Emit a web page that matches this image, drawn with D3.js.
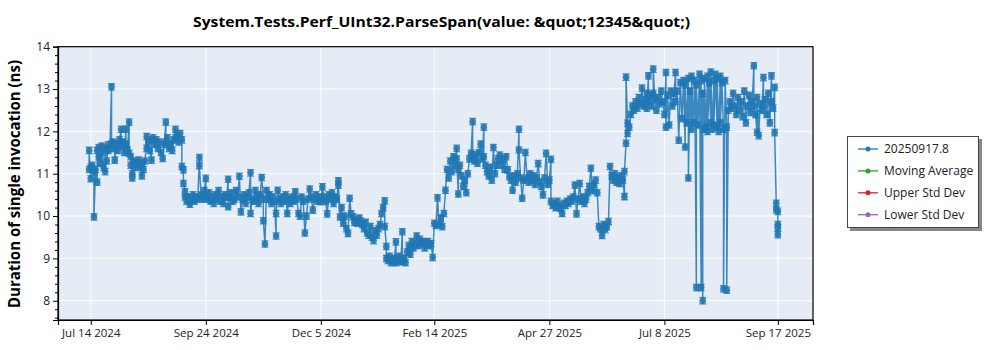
<!DOCTYPE html>
<html><head><meta charset="utf-8">
<script src="https://cdn.jsdelivr.net/npm/d3@7/dist/d3.min.js"></script>
<style>body{margin:0;background:#fff;} svg{display:block;font-family:"Open Sans","Noto Sans",sans-serif;}</style>
</head><body><svg id="c" width="1000" height="350"></svg>
<script>
// ---------------- data ----------------
const startDate = "2024-07-14";           // day 0 of dayOffsets
const dayOffsets = [
  -1,-1,0,0,1,2,2,3,4,4, 5,5,6,7,7,8,9,9,10,11, 11,12,13,13,14,15,15,16,17,18,
  19,19,20,21,22,22,23,24,24,25, 25,26,26,27,28,29,30,31,32,32, 33,34,35,35,36,37,38,38,39,40,
  41,42,43,44,45,46,47,47,48,49, 50,51,52,53,53,54,55,56,57,57, 58,58,59,59,60,61,62,63,64,65,
  66,67,68,68,69,70,71,
  72,72,73,74,75,76,77,78,79,80, 81,82,83,84,85,86,86,87,88,89, 90,91,92,93,94,95,96,97,98,99,
  100,100,101,102,103,104,105,106,107,108, 108,109,110,111,112,113,
  114,115,116,116,117,118,119,120,121,122, 123,124,125,126,127,128,129,130,131,132,
  133,134,135,136,137,138,139,140,141,142, 143,144,145,146,147,148,149,150,151,152,
  153,154,155,155,156,157,158,159,160,161, 162,163,164,165,166,167,168,169,170,171,
  172,173,174,175,176,177,178,179,180,181, 182,183,184,184,185,185,186,187,188,189,
  190,191,191,192,193,194,195,195,196,197, 198,199,200,201,202,203,204,205,206,207,
  208,209,210,211,212,213,214,215,216,217, 218,219,220,221,222,223,224,225,226,227,
  228,229,229,230,230,231,
  232,233,234,235,236,237,238,239,239,240, 241,242,243,244,245,246,246,247,248,249,
  250,251,252,253,254,255,256,257,258,259, 260,261,262,263,264,265,266,267,268,268,
  269,270,271,272,273,274,275,276,277,278, 279,280,281,282,283,284,285,286,287,288,
  288,289,290,291,292,293,294,295,296,297, 298,299,300,301,302,303,304,305,306,307,
  308,309,310,311,312,313,314,315,316,317, 318,319,320,321,322,323,324,325,326,327,
  328,329,330,331,332,333,334,334,335,335, 336,336,337,338,339,340,341,342,343,344,
  345,346,
  347,348,348,349,349,350,351,352,352,353, 354,355,356,357,358,359,360,360,361,362,
  363,364,365,366,366,367,368,369,370,371, 372,372,373,374,374,375,376,376,377,378,
  379,379,380,381,382,382,383,383,384,384, 385,386,386,387,388,388,389,390,390,391,
  392,392,393,394,394,395,396,396,397,398, 398,399,400,401,402,403,404,405,406,407,
  408,409,410,411,412,413,414,415,415,416, 417,417,418,419,420,421,421,422,423,424,
  425,426,426,427,428,428,429,429,430,430, 430,430
];
const durations = [
  11.10,11.55,10.88,11.15,11.20,11.05,9.98,11.10,10.80,11.55, 11.62,11.40,11.25,11.50,11.65,11.15,11.05,11.60,11.30,11.68,
  11.55,11.60,13.05,11.70,11.75,11.60,11.32,11.70,11.55,11.80,
  12.05,11.65,11.75,11.50,12.05,11.70,11.55,12.22,11.48,11.40, 11.20,11.00,10.90,11.30,11.15,11.25,11.32,11.15,10.95,11.25,
  11.10,11.30,11.88,11.60,11.75,11.55,11.32,11.80,11.85,11.70,
  11.80,11.60,11.75,11.50,11.36,11.70,12.22,11.75,11.85,11.60, 11.70,11.55,11.80,12.05,11.85,11.90,11.75,11.95,11.80,11.17,
  11.09,10.77,10.57,10.45,10.35,10.45,10.28,10.40,10.50,10.35,
  10.45,10.40,11.38,11.19,10.50,10.40,10.60,
  10.89,10.45,10.40,10.55,10.35,10.45,10.30,10.50,10.40,10.60, 10.35,10.45,10.30,10.50,10.45,10.87,10.22,10.45,10.55,10.35,
  10.40,10.60,10.45,10.94,10.10,10.40,10.50,10.30,10.45,10.55,
  11.02,10.06,10.40,10.35,10.60,10.45,10.30,10.50,10.91,10.40, 9.89,9.34,10.60,10.40,10.50,10.30,
  10.45,10.35,9.53,10.06,10.61,10.40,10.30,10.45,10.35,10.50, 10.06,10.40,10.30,10.45,10.35,10.57,10.40,10.06,10.00,10.45,
  10.35,9.60,10.00,10.40,10.64,10.45,10.14,10.40,10.50,10.35, 10.45,10.34,10.69,10.45,10.35,10.05,10.50,10.40,10.55,10.30,
  10.45,10.40,10.83,10.73,9.98,10.20,9.83,10.00,9.70,9.59, 10.42,10.05,9.98,9.85,9.90,9.83,9.95,9.88,9.80,9.70,
  9.85,9.60,9.55,9.75,9.50,9.42,9.65,9.55,9.70,9.80, 10.06,10.20,10.36,9.75,9.28,9.00,8.95,9.05,8.90,8.95,
  9.00,9.39,8.90,8.95,9.05,8.92,9.63,8.95,9.00,8.90, 9.15,9.30,9.10,9.40,9.25,9.35,9.53,9.30,9.45,9.35,
  9.40,9.25,9.35,9.40,9.30,9.35,9.02,9.83,9.78,10.43, 9.80,9.95,9.75,10.06,10.61,11.10,10.90,11.30,11.05,11.40,
  11.20,11.60,11.35,10.52,11.10,11.20,
  10.95,10.70,10.85,10.55,11.00,11.35,11.48,12.23,11.40,11.30, 11.45,11.25,11.50,11.70,11.35,12.10,11.40,11.20,11.05,10.95,
  11.15,10.85,11.62,11.00,11.20,11.35,11.44,11.20,11.35,11.10, 11.40,11.09,10.93,10.85,10.61,10.95,10.80,11.00,12.05,11.56,
  10.90,10.42,10.85,11.50,10.90,10.80,11.00,10.85,10.95,10.75, 10.90,11.24,10.80,10.70,10.50,10.90,11.48,10.75,10.85,11.34,
  10.35,10.25,10.30,10.20,10.35,10.25,10.18,10.06,10.30,10.25, 10.35,10.30,10.40,10.35,10.45,10.73,10.05,10.40,10.77,10.35,
  10.45,10.30,10.40,10.55,10.70,11.13,10.60,10.75,10.85,10.55, 9.75,9.70,9.54,9.80,9.68,9.75,9.87,11.17,10.95,10.85,
  11.00,10.80,10.90,10.77,10.95,10.85,10.46,11.05,11.72,13.28, 12.19,11.95,12.10,12.40,12.60,12.50,12.70,12.55,12.80,12.65,
  13.02,12.60,
  12.75,12.90,12.55,13.31,12.70,12.85,12.60,12.90,13.47,12.75, 12.50,12.80,12.65,12.95,12.70,12.40,13.39,12.10,12.85,12.15,
  12.95,12.60,12.90,13.39,12.70,12.95,11.79,13.15,12.30,13.20, 11.63,13.10,12.20,13.25,10.90,12.95,12.05,13.30,12.20,13.20,
  8.31,13.10,12.15,13.35,8.31,13.20,8.00,12.90,12.05,13.25, 12.10,13.30,12.00,13.15,12.20,13.40,12.05,13.20,12.15,13.35,
  12.10,13.25,12.00,13.30,12.20,13.15,12.05,8.28,13.20,12.10, 8.25,12.50,12.70,12.55,12.90,12.60,12.40,12.80,12.50,12.70,
  12.35,12.95,12.20,12.60,12.85,12.45,12.70,13.55,12.60,12.40, 11.98,12.80,11.90,12.65,12.50,13.27,12.60,12.75,12.40,12.90,
  12.20,13.31,12.70,12.55,13.04,11.97,10.30,10.15,10.11,9.80, 9.72,9.56
];
const typicalErrorNs = 0.075;   // half-height of the error whiskers, estimated from the caps
const xTickDates = ["2024-07-14","2024-09-24","2024-12-05","2025-02-14","2025-04-27","2025-07-08","2025-09-17"];
const yTickValues = [8, 9, 10, 11, 12, 13, 14];
const xDomainDates = ["2024-06-23T12:00", "2025-10-09T00:00"];
const yDomain = [7.545, 14];
const legendLabels = ["20250917.8", "Moving Average", "Upper Std Dev", "Lower Std Dev"];
const legendColors = ["#1f77b4", "#2ca02c", "#d62728", "#9467bd"];
const chartTitle = "System.Tests.Perf_UInt32.ParseSpan(value: &quot;12345&quot;)";
const yAxisTitle = "Duration of single invocation (ns)";

// ---------------- drawing ----------------
const svg = d3.select("#c");
const L = 58, R = 813, T = 46.7, B = 320;
const parseDay = d3.utcParse("%Y-%m-%d");
const parseDT = d3.utcParse("%Y-%m-%dT%H:%M");
const t0 = parseDay(startDate).getTime();
const pts = dayOffsets.map((d, i) => ({date: new Date(t0 + d * 86400000), v: durations[i]}));

const x = d3.scaleUtc().domain(xDomainDates.map(parseDT)).range([L, R]);
const y = d3.scaleLinear().domain(yDomain).range([B, T]);
const xTicks = xTickDates.map(parseDay);

svg.append("rect").attr("x", L).attr("y", T).attr("width", R - L).attr("height", B - T).attr("fill", "#e5ecf6");

// grid
const grid = svg.append("g");
grid.selectAll("line.gy").data(yTickValues).join("line")
  .attr("x1", L).attr("x2", R).attr("y1", d => y(d)).attr("y2", d => y(d))
  .attr("stroke", "#fff").attr("stroke-width", 1);
grid.selectAll("line.gx").data(xTicks).join("line")
  .attr("y1", T).attr("y2", B).attr("x1", d => x(d)).attr("x2", d => x(d))
  .attr("stroke", "#fff").attr("stroke-width", 1);

svg.append("clipPath").attr("id", "clip").append("rect")
  .attr("x", L).attr("y", T).attr("width", R - L).attr("height", B - T);
const plot = svg.append("g").attr("clip-path", "url(#clip)");
const blue = legendColors[0];

plot.append("path").datum(pts)
  .attr("d", d3.line().x(d => x(d.date)).y(d => y(d.v)))
  .attr("fill", "none").attr("stroke", blue).attr("stroke-width", 1.5).attr("stroke-opacity", 0.85);

const eb = plot.append("g").attr("stroke", blue).attr("stroke-width", 1.3).attr("stroke-opacity", 0.8);
pts.forEach(p => {
  const cx = x(p.date), y1 = y(p.v + typicalErrorNs), y2 = y(p.v - typicalErrorNs);
  eb.append("line").attr("x1", cx).attr("x2", cx).attr("y1", y1).attr("y2", y2);
  eb.append("line").attr("x1", cx - 3.5).attr("x2", cx + 3.5).attr("y1", y1).attr("y2", y1);
  eb.append("line").attr("x1", cx - 3.5).attr("x2", cx + 3.5).attr("y1", y2).attr("y2", y2);
});
plot.append("g").selectAll("circle").data(pts).join("circle")
  .attr("cx", d => x(d.date)).attr("cy", d => y(d.v)).attr("r", 3.3)
  .attr("fill", blue).attr("fill-opacity", 0.9);

// frame
svg.append("rect").attr("x", L).attr("y", T).attr("width", R - L).attr("height", B - T)
  .attr("fill", "none").attr("stroke", "#000").attr("stroke-width", 1.2);

// axes
const yAx = svg.append("g").attr("transform", `translate(${L},0)`)
  .call(d3.axisLeft(y).tickValues(yTickValues).tickSize(5).tickPadding(3).tickFormat(d3.format("d")));
const minor = d3.range(7.6, 14.0001, 0.2).filter(v => Math.abs(v - Math.round(v)) > 1e-6);
svg.append("g").attr("transform", `translate(${L},0)`)
  .call(d3.axisLeft(y).tickValues(minor).tickSize(3).tickFormat(""))
  .call(g => g.select(".domain").remove());
const xAx = svg.append("g").attr("transform", `translate(0,${B})`)
  .call(d3.axisBottom(x).tickValues(xTicks).tickSize(5).tickPadding(4).tickFormat(d3.utcFormat("%b %-d %Y")));
[yAx, xAx].forEach(g => {
  g.select(".domain").attr("stroke", "#000").attr("stroke-width", 1.2);
  g.selectAll("text").attr("font-size", 11.5).attr("fill", "#222").attr("font-family", "Open Sans, sans-serif");
});
yAx.selectAll("text").attr("font-size", 12);
yAx.selectAll(".tick line").attr("stroke", "#000");
xAx.selectAll(".tick line").attr("stroke", "#000");

// titles
svg.append("text").attr("x", 441.5).attr("y", 27).attr("text-anchor", "middle")
  .attr("font-size", 15).attr("font-weight", "bold").attr("fill", "#000")
  .attr("textLength", 497).attr("lengthAdjust", "spacingAndGlyphs").text(chartTitle);
svg.append("text").attr("transform", "translate(20,184) rotate(-90)").attr("text-anchor", "middle")
  .attr("font-size", 16).attr("font-weight", "bold").attr("fill", "#000")
  .attr("textLength", 248).attr("lengthAdjust", "spacingAndGlyphs").text(yAxisTitle);

// legend
const lg = svg.append("g");
lg.append("rect").attr("x", 850).attr("y", 139).attr("width", 132).attr("height", 92).attr("fill", "#888");
lg.append("rect").attr("x", 847.5).attr("y", 136.5).attr("width", 131).attr("height", 91)
  .attr("fill", "#fff").attr("stroke", "#444").attr("stroke-width", 1);
legendLabels.forEach((lab, i) => {
  const yy = 149 + i * 21.9;
  lg.append("line").attr("x1", 858).attr("x2", 878).attr("y1", yy).attr("y2", yy)
    .attr("stroke", legendColors[i]).attr("stroke-width", 1.3);
  lg.append("circle").attr("cx", 868).attr("cy", yy).attr("r", 2.5).attr("fill", legendColors[i]);
  lg.append("text").attr("x", 884).attr("y", yy + 4).attr("font-size", 12).attr("fill", "#222").text(lab);
});
</script></body></html>
